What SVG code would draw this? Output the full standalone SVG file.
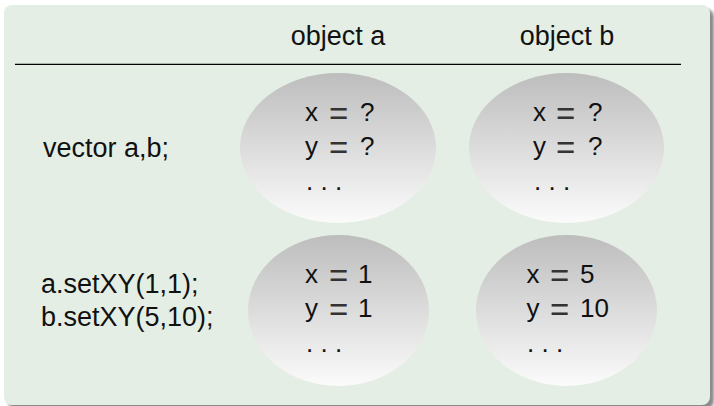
<svg xmlns="http://www.w3.org/2000/svg" width="714" height="406" viewBox="0 0 714 406">
<defs>
<linearGradient id="eg" x1="0" y1="0" x2="0" y2="1">
<stop offset="0" stop-color="#bdbdbd"/>
<stop offset="1" stop-color="#fbfbfb"/>
</linearGradient>
<filter id="sh" x="-5%" y="-5%" width="110%" height="110%">
<feGaussianBlur stdDeviation="1.5"/>
</filter>
</defs>
<style>
text{font-family:"Liberation Sans",Arial,sans-serif;font-size:27px;fill:#111}
.v{font-size:26px}
.eq{font-size:33px;fill:#333}
.node ellipse{fill:url(#eg)}
</style>
<rect x="8" y="9" width="706" height="400" rx="8" fill="#8a8a8a" filter="url(#sh)"/>
<rect x="4" y="5" width="706" height="400" rx="8" fill="#e4eee4"/>
<g id="header">
<text x="338" y="45" text-anchor="middle">object a</text>
<text x="567" y="45" text-anchor="middle">object b</text>
</g>
<g id="connectors">
<line x1="15" y1="64.3" x2="681" y2="64.3" stroke="#000" stroke-width="1.3"/>
</g>
<g id="label-decl"><text x="43" y="157">vector a,b;</text></g>
<g id="label-set">
<text x="41" y="293">a.setXY(1,1);</text>
<text x="41" y="326">b.setXY(5,10);</text>
</g>
<g id="node-a1" class="node">
<ellipse cx="338" cy="148" rx="98" ry="75"/>
<text class="v" y="121"><tspan x="305">x</tspan> <tspan class="eq" x="329" dy="4">=</tspan> <tspan x="360" dy="-4">?</tspan></text>
<text class="v" y="155"><tspan x="305">y</tspan> <tspan class="eq" x="329" dy="4">=</tspan> <tspan x="360" dy="-4">?</tspan></text>
<text class="v" x="306" y="190">. . .</text>
</g>
<g id="node-b1" class="node">
<ellipse cx="566.5" cy="148" rx="97.5" ry="75"/>
<text class="v" y="121"><tspan x="533">x</tspan> <tspan class="eq" x="556" dy="4">=</tspan> <tspan x="588" dy="-4">?</tspan></text>
<text class="v" y="155"><tspan x="533">y</tspan> <tspan class="eq" x="556" dy="4">=</tspan> <tspan x="588" dy="-4">?</tspan></text>
<text class="v" x="534" y="190">. . .</text>
</g>
<g id="node-a2" class="node">
<ellipse cx="338.5" cy="310.5" rx="90.5" ry="75.5"/>
<text class="v" y="283"><tspan x="305">x</tspan> <tspan class="eq" x="329" dy="4">=</tspan> <tspan x="358" dy="-4">1</tspan></text>
<text class="v" y="317"><tspan x="305">y</tspan> <tspan class="eq" x="329" dy="4">=</tspan> <tspan x="358" dy="-4">1</tspan></text>
<text class="v" x="306" y="352">. . .</text>
</g>
<g id="node-b2" class="node">
<ellipse cx="566.5" cy="310.5" rx="90.5" ry="75.5"/>
<text class="v" y="283"><tspan x="526.5">x</tspan> <tspan class="eq" x="550" dy="4">=</tspan> <tspan x="580" dy="-4">5</tspan></text>
<text class="v" y="317"><tspan x="526.5">y</tspan> <tspan class="eq" x="550" dy="4">=</tspan> <tspan x="580" dy="-4">10</tspan></text>
<text class="v" x="527" y="352">. . .</text>
</g>
</svg>
